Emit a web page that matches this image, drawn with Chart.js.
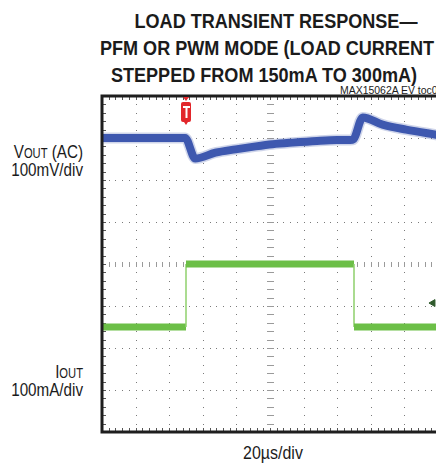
<!DOCTYPE html>
<html>
<head>
<meta charset="utf-8">
<script src="https://cdn.jsdelivr.net/npm/chart.js@4.4.1/dist/chart.umd.min.js"></script>
<style>
    html, body { margin: 0; padding: 0; background: #fff; }
    body { position: relative; width: 436px; height: 468px; overflow: hidden;
           font-family: "Liberation Sans", Arial, sans-serif; color: #1b1b1b; }
    #scope { position: absolute; left: 0; top: 0; }
    .txt { position: absolute; white-space: nowrap; }
    .title { width: 400px; text-align: center; font-weight: bold; font-size: 21px; line-height: 27px;
             transform: scaleX(0.86); transform-origin: 200px 0; }
    .note { left: 340px; top: 84px; font-size: 11px; line-height: 12px;
            transform: scaleX(0.95); transform-origin: 0 0; }
    .side { left: -37px; width: 120px; text-align: right; font-size: 19px; line-height: 20px;
            transform: scaleX(0.8); transform-origin: 120px 0; }
    .side small { font-size: 14px; }
    .foot { left: 173px; width: 200px; text-align: center; font-size: 19px; line-height: 20px; top: 443px;
            transform: scaleX(0.84); transform-origin: 100px 0; }
</style>
</head>
<body>
<div class="txt title" style="left:76px; top:7px">LOAD TRANSIENT RESPONSE—</div>
<div class="txt title" style="left:67px; top:34px">PFM OR PWM MODE (LOAD CURRENT</div>
<div class="txt title" style="left:64px; top:61px">STEPPED FROM 150mA TO 300mA)</div>
<div class="txt note">MAX15062A EV toc06</div>
<div class="txt side" style="top:142px">V<small>OUT</small> (AC)</div>
<div class="txt side" style="top:160px">100mV/div</div>
<div class="txt side" style="top:362px">I<small>OUT</small></div>
<div class="txt side" style="top:380px">100mA/div</div>
<div class="txt foot">20µs/div</div>
<canvas id="scope" width="470" height="468"></canvas>

<script>
// time base: 20us/div, 10 divisions; 8 vertical divisions
const US_PER_DIV = 20;
const X_DIVS = 10;
const Y_DIVS = 8;

// VOUT (AC coupled), 100mV/div, trace sits 3 div above centre
const voutTime = [0, 20, 49.5, 55.5, 67.5, 79.5, 91.5, 101.5, 113.5, 128, 140, 149.3, 155.2, 167, 181, 200];
const voutMv   = [0, 0, 0, -49, -35, -27, -20, -15, -11, -7, -5, -4, 49, 32, 20, 7];
const VOUT_MV_PER_DIV = 100;
const VOUT_OFFSET_DIV = 3;

// IOUT, 100mA/div, 0mA sits 3 div below centre
const ioutTime = [0, 50, 50, 150, 150, 200];
const ioutMa   = [150, 150, 300, 300, 150, 150];
const IOUT_MA_PER_DIV = 100;
const IOUT_OFFSET_DIV = -3;

const TRIGGER_US = 50;
const CH2_MARKER = { t: 197, mA: 207 };

const toVout = (t, i) => ({ x: t, y: VOUT_OFFSET_DIV + voutMv[i] / VOUT_MV_PER_DIV });
const toIout = (t, i) => ({ x: t, y: IOUT_OFFSET_DIV + ioutMa[i] / IOUT_MA_PER_DIV });

const voutPts = voutTime.map(toVout);
const ioutPts = ioutTime.map(toIout);

const scopeGrid = {
    id: 'scopeGrid',
    beforeDatasetsDraw(chart) {
        const { ctx, chartArea: a, scales: { x, y } } = chart;
        const minorX = a.width / (X_DIVS * 5);
        const minorY = a.height / (Y_DIVS * 5);
        const cx = x.getPixelForValue(X_DIVS / 2 * US_PER_DIV);
        const cy = y.getPixelForValue(0);
        ctx.save();
        ctx.fillStyle = '#7a7a7a';
        // dotted verticals
        for (let d = 1; d < X_DIVS; d++) {
            const px = Math.round(x.getPixelForValue(d * US_PER_DIV));
            for (let m = 1; m < Y_DIVS * 5; m++) {
                ctx.fillRect(px, Math.round(a.top + m * minorY), 1, 1);
            }
        }
        // dotted horizontals
        for (let d = -Y_DIVS / 2 + 1; d < Y_DIVS / 2; d++) {
            const py = Math.round(y.getPixelForValue(d));
            for (let m = 1; m < X_DIVS * 5; m++) {
                ctx.fillRect(Math.round(a.left + m * minorX), py, 1, 1);
            }
        }
        // ticks on centre axes
        ctx.fillStyle = '#9a9a9a';
        for (let m = 1; m < Y_DIVS * 5; m++) {
            ctx.fillRect(Math.round(cx) - 3, Math.round(a.top + m * minorY), 7, 1);
        }
        for (let m = 1; m < X_DIVS * 5; m++) {
            ctx.fillRect(Math.round(a.left + m * minorX), Math.round(cy) - 2, 1, 5);
        }
        // ticks on borders
        ctx.fillStyle = '#555';
        for (let m = 1; m < X_DIVS * 5; m++) {
            const px = Math.round(a.left + m * minorX);
            ctx.fillRect(px, a.top, 1, 4);
            ctx.fillRect(px, a.bottom - 4, 1, 4);
        }
        for (let m = 1; m < Y_DIVS * 5; m++) {
            ctx.fillRect(a.left, Math.round(a.top + m * minorY), 4, 1);
        }
        ctx.restore();
    },
    afterDatasetsDraw(chart) {
        const { ctx, chartArea: a, scales: { x } } = chart;
        ctx.save();
        ctx.strokeStyle = '#1e1e1e';
        ctx.lineWidth = 3;
        ctx.beginPath();
        ctx.moveTo(a.right, a.top);
        ctx.lineTo(a.left, a.top);
        ctx.lineTo(a.left, a.bottom);
        ctx.lineTo(a.right, a.bottom);
        ctx.stroke();

        // trigger marker
        const tx = Math.round(x.getPixelForValue(TRIGGER_US));
        ctx.fillStyle = '#e2262b';
        ctx.beginPath();
        ctx.moveTo(tx - 3, a.top + 1);
        ctx.lineTo(tx + 3, a.top + 1);
        ctx.lineTo(tx, a.top + 5);
        ctx.fill();
        ctx.beginPath();
        ctx.roundRect(tx - 5, a.top + 6, 10, 20, 2);
        ctx.fill();
        ctx.beginPath();
        ctx.moveTo(tx - 2, a.top + 26);
        ctx.lineTo(tx + 2, a.top + 26);
        ctx.lineTo(tx, a.top + 29);
        ctx.fill();
        ctx.fillStyle = '#fff';
        ctx.fillRect(tx - 3, a.top + 10, 7, 2);
        ctx.fillRect(tx - 0.5, a.top + 10, 2, 12);
        ctx.restore();
    }
};

new Chart(document.getElementById('scope'), {
    type: 'line',
    data: {
        datasets: [
            {
                data: voutPts,
                borderColor: 'rgba(62, 86, 170, 0.25)',
                borderWidth: 11,
                cubicInterpolationMode: 'monotone',
                pointRadius: 0
            },
            {
                data: voutPts,
                borderColor: '#3e59b0',
                borderWidth: 8,
                cubicInterpolationMode: 'monotone',
                pointRadius: 0
            },
            {
                data: ioutPts,
                borderColor: '#6cbf47',
                borderWidth: 7,
                borderCapStyle: 'butt',
                pointRadius: 0,
                segment: {
                    borderWidth: c => c.p0.parsed.x === c.p1.parsed.x ? 1.5 : 7,
                    borderColor: c => c.p0.parsed.x === c.p1.parsed.x ? '#8fd06c' : '#6cbf47'
                }
            },
            {
                data: [{ x: CH2_MARKER.t, y: IOUT_OFFSET_DIV + CH2_MARKER.mA / IOUT_MA_PER_DIV }],
                showLine: false,
                pointStyle: 'triangle',
                rotation: 270,
                pointRadius: 4,
                pointBackgroundColor: '#2f5a2c',
                pointBorderColor: '#2f5a2c'
            }
        ]
    },
    options: {
        responsive: false,
        animation: false,
        events: [],
        layout: { padding: { left: 102, top: 96, right: 32, bottom: 36 } },
        scales: {
            x: { type: 'linear', min: 0, max: X_DIVS * US_PER_DIV, display: false },
            y: { type: 'linear', min: -Y_DIVS / 2, max: Y_DIVS / 2, display: false }
        },
        plugins: { legend: { display: false }, tooltip: { enabled: false } }
    },
    plugins: [scopeGrid]
});
</script>
</body>
</html>
